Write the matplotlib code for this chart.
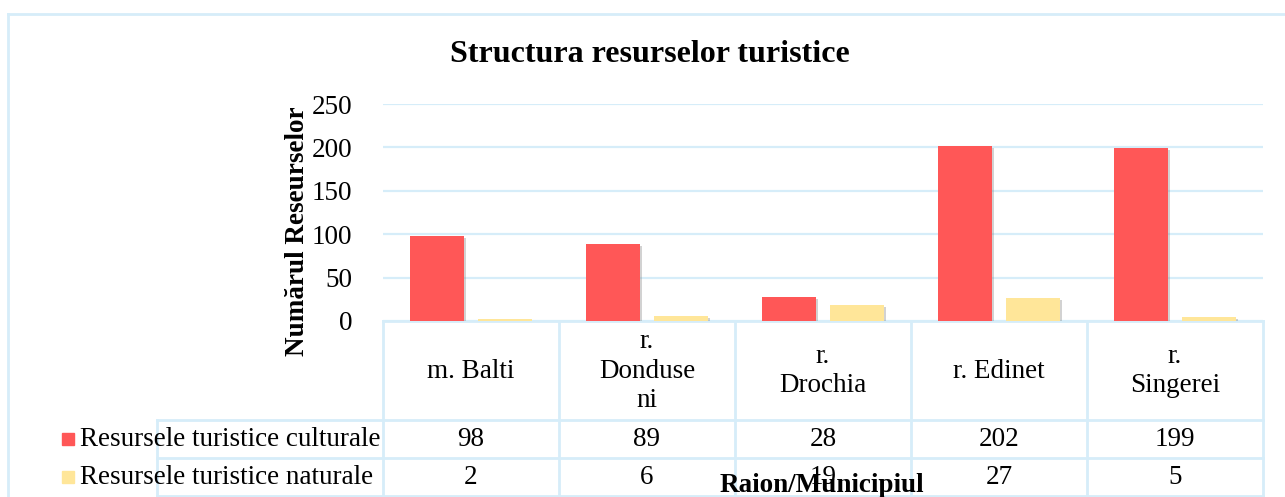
import matplotlib.pyplot as plt
import matplotlib.patheffects as pe
from matplotlib.transforms import blended_transform_factory
import numpy as np

# data
categories = ["m. Balti", "r.\nDonduse\nni", "r.\nDrochia", "r. Edinet", "r.\nSingerei"]
series_names = ["Resursele turistice culturale", "Resursele turistice naturale"]
culturale = [98, 89, 28, 202, 199]
naturale = [2, 6, 19, 27, 5]
yticks = [0, 50, 100, 150, 200, 250]

red = "#FF5757"
yellow = "#FFE699"
line_col = "#D6EDF9"

plt.rcParams['font.family'] = ['Liberation Serif', 'DejaVu Serif']

W, H = 1285, 497
fig = plt.figure(figsize=(W / 100, H / 100), dpi=100)

# overlay in pixel coords for frame / table
over = fig.add_axes([0, 0, 1, 1])
over.set_xlim(0, W)
over.set_ylim(H, 0)
over.axis('off')

ax = fig.add_axes([383 / W, 1 - 321 / H, 880 / W, 217 / H])
ax.patch.set_visible(False)
n = len(categories)
x = np.arange(n) + 0.5
bw = 0.307
shadow = [pe.SimplePatchShadow(offset=(1.5, -1.5), shadow_rgbFace='gray', alpha=0.35), pe.Normal()]
b1 = ax.bar(x - 0.193, culturale, bw, color=red, zorder=3)
b2 = ax.bar(x + 0.193, naturale, bw, color=yellow, zorder=3)
for b in list(b1) + list(b2):
    b.set_path_effects(shadow)
ax.set_xlim(0, n)
ax.set_ylim(0, 250)
ax.set_yticks(yticks)
ax.set_xticks([])
ax.tick_params(axis='y', length=0, pad=22, labelsize=19.5)
ax.grid(axis='y', color=line_col, lw=1.6, zorder=0)
for s in ax.spines.values():
    s.set_visible(False)
ax.set_ylabel("Numărul Reseurselor", fontsize=19.5, fontweight='bold', va='center')
ax.yaxis.set_label_coords(297 / W, 1 - 231 / H, transform=fig.transFigure)

# outer frame
over.plot([7.5, W], [13.5, 13.5], color=line_col, lw=2)
over.plot([7.5, 7.5], [13.5, H], color=line_col, lw=2)

# data table
bt = blended_transform_factory(ax.transData, over.transData)
row_y = [321, 420, 458, 496]
over.plot([383, 1263], [321, 321], color=line_col, lw=2)
for yy in row_y[1:]:
    over.plot([157, 1263], [yy, yy], color=line_col, lw=2)
over.plot([157, 157], [420, 496], color=line_col, lw=2)
for i in range(n + 1):
    over.plot([i, i], [321, 496], color=line_col, lw=2, transform=bt)
for i, c in enumerate(categories):
    over.text(x[i], 371, c, transform=bt, ha='center', va='center', fontsize=19.5,
              multialignment='center', linespacing=1.25)
for vals, cy in zip([culturale, naturale], [440, 478]):
    for i, v in enumerate(vals):
        over.text(x[i], cy, str(v), transform=bt, ha='center', va='center', fontsize=19.5)
for name, col, cy in zip(series_names, [red, yellow], [439, 477]):
    over.add_patch(plt.Rectangle((62, cy - 6), 12, 12, color=col))
    over.text(80, cy + 1, name, ha='left', va='center', fontsize=19.5)

over.text(650, 55, "Structura resurselor turistice", ha='center', va='center',
          fontsize=23, fontweight='bold')
over.text(822, 486, "Raion/Municipiul", ha='center', va='center',
          fontsize=19.5, fontweight='bold')

fig.savefig("out.png", dpi=100)
